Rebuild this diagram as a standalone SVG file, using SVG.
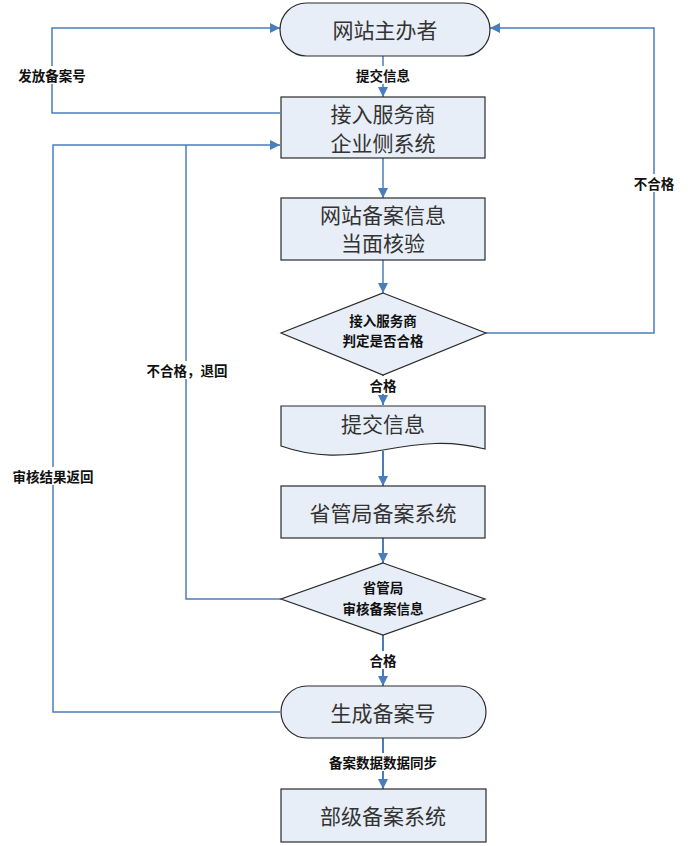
<svg xmlns="http://www.w3.org/2000/svg" width="692" height="846" viewBox="0 0 692 846">
<style>
.shape{fill:#e8eef7;stroke:#2a2a2a;stroke-width:1.2}
.nt{font-family:"Noto Sans CJK SC","Liberation Serif",sans-serif;font-size:21px;fill:#333;text-anchor:middle;dominant-baseline:central}
.dt{font-family:"Noto Sans CJK SC","Liberation Sans",sans-serif;font-size:13.5px;font-weight:bold;fill:#111;text-anchor:middle;dominant-baseline:central}
.lb{font-family:"Noto Sans CJK SC","Liberation Sans",sans-serif;font-size:13.5px;font-weight:bold;fill:#111;text-anchor:middle;dominant-baseline:central}
.c{fill:none;stroke:#4a7ebb;stroke-width:1.5}
.ct{fill:none;stroke:#4a7ebb;stroke-width:2}
.bg{fill:#fff}
</style>
<defs>
<marker id="ah" viewBox="0 0 10 10" refX="10" refY="5" markerWidth="10" markerHeight="10" markerUnits="userSpaceOnUse" orient="auto">
<path d="M0,0 L10,5 L0,10 Z" fill="#4a7ebb"/>
</marker>
</defs>
<rect width="692" height="846" fill="#fff"/>
<g id="connectors">
<path class="c" d="M383,56 V97" marker-end="url(#ah)"/>
<path class="c" d="M383,158 V198" marker-end="url(#ah)"/>
<path class="c" d="M383,260 V293" marker-end="url(#ah)"/>
<path class="c" d="M486,333 H654 V28 H490" marker-end="url(#ah)"/>
<path class="ct" d="M383,375 V405" marker-end="url(#ah)"/>
<path class="ct" d="M383,451 V486" marker-end="url(#ah)"/>
<path class="ct" d="M383,538 V563" marker-end="url(#ah)"/>
<path class="ct" d="M383,635 V686" marker-end="url(#ah)"/>
<path class="ct" d="M383,738 V789" marker-end="url(#ah)"/>
<path class="c" d="M280,113 H52 V28 H280" marker-end="url(#ah)"/>
<path class="c" d="M281,599 H186 V145"/>
<path class="c" d="M280,712 H53 V145 H280" marker-end="url(#ah)"/>
<path d="M281,113 A12 15 0 0 1 281,143" fill="none" stroke="#222" stroke-width="1" stroke-dasharray="3,2"/>
<rect class="bg" x="349" y="66" width="68" height="18"/>
<text class="lb" x="383" y="75">提交信息</text>
<rect class="bg" x="10" y="66" width="84" height="18"/>
<text class="lb" x="52" y="75">发放备案号</text>
<rect class="bg" x="630" y="174" width="48" height="18"/>
<text class="lb" x="654" y="183">不合格</text>
<rect class="bg" x="138" y="361" width="98" height="18"/>
<text class="lb" x="187" y="370">不合格，退回</text>
<rect class="bg" x="5" y="467" width="96" height="18"/>
<text class="lb" x="53" y="476">审核结果返回</text>
<rect class="bg" x="364" y="376" width="38" height="18"/>
<text class="lb" x="383" y="385">合格</text>
<rect class="bg" x="364" y="651" width="38" height="18"/>
<text class="lb" x="383" y="660">合格</text>
<rect class="bg" x="320" y="753" width="126" height="18"/>
<text class="lb" x="383" y="762">备案数据数据同步</text>
</g>
<g id="n1">
<rect class="shape" x="280" y="3" width="210" height="53" rx="26.5"/>
<text class="nt" x="385" y="29">网站主办者</text>
</g>
<g id="n2">
<rect class="shape" x="281" y="97" width="204" height="61"/>
<text class="nt" x="383" y="113">接入服务商</text>
<text class="nt" x="383" y="142">企业侧系统</text>
</g>
<g id="n3">
<rect class="shape" x="281" y="198" width="204" height="62"/>
<text class="nt" x="383" y="214">网站备案信息</text>
<text class="nt" x="383" y="242">当面核验</text>
</g>
<g id="n4">
<polygon class="shape" points="383,293 486,333 383,375 281,333"/>
<text class="dt" x="383" y="320">接入服务商</text>
<text class="dt" x="383" y="340">判定是否合格</text>
</g>
<g id="n5">
<path class="shape" d="M281,406 H485 V449 C450,440 420,443 383,450 C345,457 315,458 281,446 Z"/>
<text class="nt" x="383" y="423">提交信息</text>
</g>
<g id="n6">
<rect class="shape" x="281" y="486" width="204" height="52"/>
<text class="nt" x="383" y="512">省管局备案系统</text>
</g>
<g id="n7">
<polygon class="shape" points="383,563 485,599 383,635 281,599"/>
<text class="dt" x="383" y="587">省管局</text>
<text class="dt" x="383" y="608">审核备案信息</text>
</g>
<g id="n8">
<rect class="shape" x="281" y="686" width="205" height="52" rx="26"/>
<text class="nt" x="383" y="712">生成备案号</text>
</g>
<g id="n9">
<rect class="shape" x="281" y="789" width="205" height="53"/>
<text class="nt" x="383" y="815">部级备案系统</text>
</g>
</svg>
